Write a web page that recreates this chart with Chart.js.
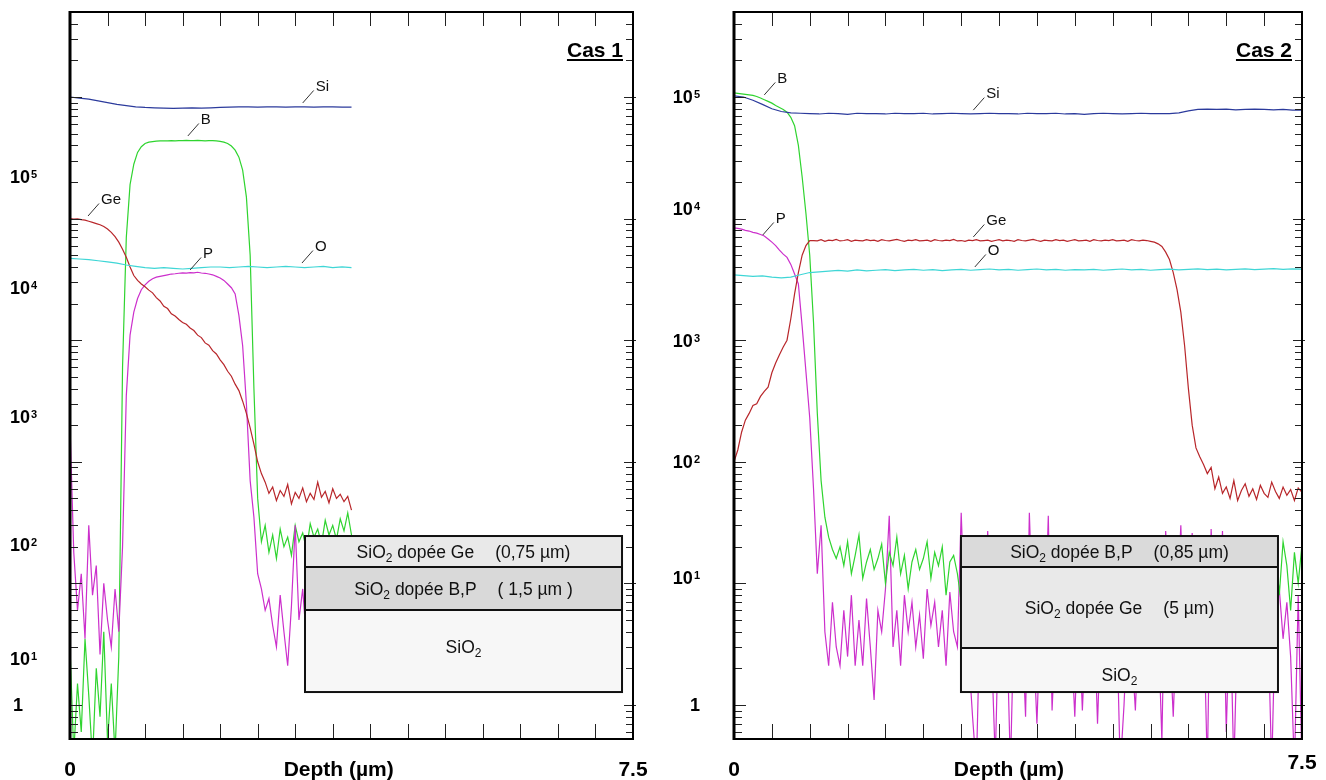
<!DOCTYPE html>
<html>
<head>
<meta charset="utf-8">
<script src="https://cdn.jsdelivr.net/npm/chart.js@4.4.1/dist/chart.umd.min.js"></script>
<style>
  html, body { margin: 0; padding: 0; background: #ffffff; width: 1326px; height: 780px; overflow: hidden; }
  #cas1 { position: absolute; left: 0; top: 0; }
  #cas2 { position: absolute; left: 660px; top: 0; }
</style>
</head>
<body>
<canvas id="cas1" width="660" height="780"></canvas>
<canvas id="cas2" width="666" height="780"></canvas>
<script>
// ---------------- DATA ----------------
// depth spacing of the profile samples (µm)
const depthStepDopant = 0.05;   // B, P, Ge
const depthStepMatrix = 0.125;  // Si, O

// ---- Cas 1 (profile measured from 0 to 3.75 µm) ----
const cas1_Si = [100000, 98000, 96000, 93000, 90000, 87000, 85000, 83000, 82000, 81500,
  81000, 80500, 81000, 81500, 81000, 81500, 82000, 82500, 83000, 83000,
  82500, 83000, 83000, 82500, 83000, 83000, 82500, 83000, 83000, 82500, 82500];
const cas1_O = [4700, 4650, 4600, 4500, 4400, 4300, 4150, 4050, 3950, 3900,
  3950, 3900, 3850, 3900, 3950, 4000, 4000, 3950, 4000, 4050,
  4000, 3950, 4000, 4050, 4000, 3950, 4000, 4050, 3950, 4000, 3950];
const cas1_Ge = [10000, 9900, 9950, 9800, 9700, 9500, 9300, 9100, 8900, 8600,
  8200, 7700, 7100, 6400, 5600, 4800, 4000, 3400, 3100, 2900,
  2750, 2580, 2450, 2240, 2100, 1900, 1820, 1650, 1580, 1480,
  1400, 1350, 1260, 1200, 1100, 1050, 950, 910, 820, 770,
  690, 630, 555, 505, 435, 385, 315, 250, 190, 140,
  100, 80, 68, 55, 62, 48, 58, 52, 65, 45,
  56, 50, 61, 47, 55, 49, 68, 51, 57, 46,
  60, 50, 54, 47, 52, 40];
const cas1_B = [3, 0.4, 1.5, 0.6, 3.5, 1.2, 0.35, 2, 0.8, 4,
  0.5, 1.5, 0.4, 2.5, 600, 7000, 19000, 28000, 35000, 39000,
  41500, 42500, 43000, 43300, 43500, 43600, 43500, 43700, 43600, 43800,
  43700, 43900, 43800, 43700, 43900, 43800, 43600, 43800, 43700, 43500,
  43200, 42500, 41500, 39500, 36500, 32000, 25000, 15000, 5000, 400,
  50, 22, 30, 18, 25, 16, 28, 20, 24, 17,
  30, 22, 26, 19, 31, 24, 28, 21, 33, 25,
  30, 23, 34, 27, 38, 25];
const cas1_P = [200, 18, 6, 12, 3.5, 30, 8, 14, 2.6, 10,
  5, 3, 9, 4, 20, 350, 1100, 1700, 2200, 2600,
  2850, 3050, 3200, 3300, 3350, 3400, 3450, 3500, 3520, 3550,
  3580, 3560, 3600, 3580, 3620, 3570, 3550, 3500, 3450, 3350,
  3250, 3100, 2900, 2700, 2400, 1600, 900, 300, 70, 35,
  12, 9, 6, 7.5, 4.5, 3, 8, 4, 2.1, 6.5,
  30, 5, 9, 3.4, 7.5, 5.5, 8, 4.2, 7, 12,
  5, 16, 6, 9, 11, 8];

// ---- Cas 2 (profile measured from 0 to 7.5 µm) ----
const cas2_Si = [102000, 100000, 94000, 87000, 80000, 76000, 74000, 73500,
  73000, 72500, 73500, 73000, 72000, 73500, 73000, 73000, 72500, 73500,
  73000, 73000, 73500, 72500, 73000, 73500, 73000, 72500, 73000, 73500,
  73000, 73000, 72500, 73500, 73000, 73000, 73500, 72500, 73000, 72000,
  73000, 73500, 73000, 72500, 73000, 73500, 73000, 73000, 73000,
  74000, 77000, 79000, 79500, 79000, 79500, 78500, 79000, 79500, 79000, 78500, 79000, 78000, 78000];
const cas2_O = [3450, 3400, 3350, 3380, 3300, 3250, 3300, 3450,
  3600, 3650, 3700, 3750, 3700, 3780, 3720, 3760, 3800, 3740,
  3780, 3820, 3760, 3800, 3740, 3780, 3820, 3760, 3800, 3850,
  3780, 3820, 3760, 3800, 3850, 3780, 3820, 3760, 3800, 3780,
  3820, 3760, 3800, 3850, 3780, 3820, 3760, 3800, 3840,
  3780, 3820, 3860, 3800, 3840, 3780, 3820, 3860, 3800, 3840, 3880, 3820, 3860, 3840];
const cas2_Ge = [100, 125, 175, 220, 250, 290, 300, 345, 380, 410,
  540, 650, 760, 880, 1000, 1500, 2400, 3600, 5000, 6000, 6600,
  6600, 6550, 6700, 6500, 6650, 6600, 6750, 6550, 6600, 6700,
  6500, 6650, 6600, 6550, 6700, 6600, 6650, 6500, 6700, 6600,
  6550, 6650, 6750, 6600, 6500, 6650, 6600, 6700, 6550, 6600,
  6650, 6500, 6700, 6600, 6550, 6650, 6600, 6750, 6550, 6600,
  6500, 6650, 6600, 6700, 6550, 6600, 6650, 6500, 6600, 6700,
  6550, 6650, 6600, 6500, 6700, 6600, 6550, 6650, 6750, 6600,
  6500, 6650, 6600, 6550, 6700, 6600, 6650, 6500, 6600, 6700,
  6550, 6600, 6650, 6500, 6700, 6600, 6550, 6650, 6600, 6700,
  6550, 6600, 6650, 6500, 6700, 6600, 6550, 6650, 6600, 6500,
  6400, 6200, 5900, 5300, 4600, 3600, 2600, 1700, 900, 400,
  200, 130, 110, 95, 80, 90, 60, 75, 55,
  62, 50, 70, 48, 58, 66, 52, 60, 49, 64, 55, 51, 68, 57, 50, 62, 53, 59, 48, 61, 56];
const cas2_B = [108000, 107000, 106000, 105000, 104000, 103000, 101000, 98000, 95000, 92000,
  89000, 85000, 82000, 79000, 75000, 68000, 58000, 40000, 22000, 11000,
  5000, 1400, 250, 70, 35, 24, 19, 16,
  20, 14, 22, 12, 17, 25, 11, 15, 19, 13,
  16, 21, 10, 18, 14, 24, 12, 17, 9, 15,
  19, 13, 16, 22, 11, 18, 14, 20, 8, 15,
  17, 12, 7, 14, 19, 11, 16, 13, 18, 10,
  15, 12, 17, 9, 14, 16, 11, 13, 18, 12,
  14, 10, 16, 12, 15, 9, 13, 17, 11, 14,
  12, 16, 10, 15, 13, 11, 17, 12, 14, 10,
  15, 13, 11, 16, 12, 14, 9, 15, 13, 11,
  16, 12, 14, 10, 15, 13, 17, 11, 14, 12,
  15, 11, 13, 16, 10, 14, 12, 15, 9, 13,
  16, 12, 14, 11, 15, 13, 10, 16, 12, 14,
  11, 15, 13, 17, 12, 20, 8, 22, 14, 6,
  18, 10, 21];
const cas2_P = [8400, 8300, 8200, 8000, 7900, 7700, 7600, 7400, 7200, 6800,
  6400, 6000, 5500, 5100, 4800, 4200, 3500, 2900, 1300, 550,
  230, 60, 12,
  30, 4, 2.1, 7, 3, 2.1, 6, 2.5, 8, 2.1,
  5, 2.1, 7.5, 3, 1.1, 6, 4, 9, 36, 3,
  6, 2.1, 8, 4, 7, 3, 5.5, 2.4, 9, 4.5,
  7, 3, 6, 2.1, 8.5, 4, 3, 38, 5, 2.5,
  0.8, 0.3, 6, 4, 27, 3, 0.35, 7, 2, 5,
  0.3, 6, 3, 5, 0.8, 38, 4, 0.7, 6, 3,
  36, 0.9, 5, 7, 3, 8, 4, 0.8, 6, 0.9,
  5, 3, 7, 0.7, 6, 4, 8, 2.5, 6, 0.3,
  1.0, 5, 3, 0.9, 6, 7, 4, 2.5, 8, 5,
  0.5, 27, 4, 0.8, 6, 30, 3, 7, 26, 5,
  4, 6, 0.3, 28, 5, 3, 27, 0.6, 7, 0.3,
  5, 8, 3, 6, 4, 9, 2.5, 7, 5, 0.3,
  6, 9, 3.5, 7, 2.5, 0.3, 8, 0.3];

// axis text
const yTickLabels = ['1', '10¹', '10²', '10³', '10⁴', '10⁵'];
const xTickLabels = ['0', '7.5'];
const xTickValues = [0, 7.5];
const xAxisTitle = 'Depth (µm)';
const panelTitles = ['Cas 1', 'Cas 2'];

// layer stack insets
const cas1Layers = [['SiO₂ dopée Ge', '(0,75 µm)'], ['SiO₂ dopée B,P', '( 1,5 µm )'], ['SiO₂', '']];
const cas2Layers = [['SiO₂ dopée B,P', '(0,85 µm)'], ['SiO₂ dopée Ge', '(5 µm)'], ['SiO₂', '']];

// ---------------- STYLE ----------------
const COLORS = { Si: '#2b3a9c', O: '#3fd6d6', Ge: '#b8262a', B: '#2fd42f', P: '#cc2fcc' };
const FONT = '"Liberation Sans", Arial, Helvetica, sans-serif';
const Y_MIN = 0.525, Y_MAX = 500000;
const X_MAX = 7.5;

const panels = [
  {
    id: 'cas1', title: panelTitles[0],
    series: [
      { name: 'O', values: cas1_O, step: depthStepMatrix },
      { name: 'Si', values: cas1_Si, step: depthStepMatrix },
      { name: 'Ge', values: cas1_Ge, step: depthStepDopant },
      { name: 'P', values: cas1_P, step: depthStepDopant },
      { name: 'B', values: cas1_B, step: depthStepDopant }
    ],
    padding: { left: 70, top: 12, right: 27, bottom: 41 },
    // y label placement (value at which each label is centred) – as in the original figure
    yLabelAt: [1, 2.43, 20.7, 234, 2690, 21980],
    yLabelAlign: 'left', yLabelDx: -60,
    depthTitleAt: 3.58, endLabelDy: [0, 0],
    curveLabels: [
      { t: 'Si', x: 3.10, y: 89300 }, { t: 'B', x: 1.57, y: 47800 },
      { t: 'Ge', x: 0.24, y: 10500 }, { t: 'P', x: 1.60, y: 3780 },
      { t: 'O', x: 3.09, y: 4310 }
    ],
    layers: cas1Layers,
    box: { x0: 0.4174, x1: 0.9805, rows: [0.7208, 0.7634, 0.8226, 0.9354],
           fills: ['#e9e9e9', '#d9d9d9', '#f7f7f7'], dy: [0, 0, -4] }
  },
  {
    id: 'cas2', title: panelTitles[1],
    series: [
      { name: 'O', values: cas2_O, step: depthStepMatrix },
      { name: 'Si', values: cas2_Si, step: depthStepMatrix },
      { name: 'Ge', values: cas2_Ge, step: depthStepDopant },
      { name: 'B', values: cas2_B, step: depthStepDopant },
      { name: 'P', values: cas2_P, step: depthStepDopant }
    ],
    padding: { left: 74, top: 12, right: 24, bottom: 41 },
    yLabelAt: [1, 11.1, 100, 1000, 12200, 100000],
    yLabelAlign: 'right', yLabelDx: -34,
    depthTitleAt: 3.63, endLabelDy: [0, -7],
    curveLabels: [
      { t: 'B', x: 0.40, y: 104000 }, { t: 'Si', x: 3.16, y: 78000 },
      { t: 'P', x: 0.38, y: 7330 }, { t: 'Ge', x: 3.16, y: 7060 },
      { t: 'O', x: 3.18, y: 4000 }
    ],
    layers: cas2Layers,
    box: { x0: 0.3996, x1: 0.9577, rows: [0.7208, 0.7634, 0.8748, 0.9354],
           fills: ['#dadada', '#e9e9e9', '#f7f7f7'], dy: [0, 0, 5] }
  }
];

// ---------------- DRAW HELPERS ----------------
const SUP = { '⁰': '0', '¹': '1', '²': '2', '³': '3', '⁴': '4', '⁵': '5', '⁶': '6', '⁷': '7', '⁸': '8', '⁹': '9' };
function drawPowerLabel(ctx, label, x, yc, align) {
  let base = '', sup = '';
  for (const ch of label) { if (SUP[ch]) sup += SUP[ch]; else base += ch; }
  ctx.font = 'bold 18px ' + FONT;
  const wb = ctx.measureText(base).width;
  ctx.font = 'bold 11px ' + FONT;
  const ws = sup ? ctx.measureText(sup).width + 1 : 0;
  const total = wb + ws;
  const x0 = align === 'right' ? x - total : x;
  ctx.fillStyle = '#000';
  ctx.textAlign = 'left';
  ctx.textBaseline = 'alphabetic';
  ctx.font = 'bold 18px ' + FONT;
  ctx.fillText(base, x0, yc + 6.5);
  if (sup) {
    ctx.font = 'bold 11px ' + FONT;
    ctx.fillText(sup, x0 + wb + 1, yc + 1.5);
  }
}
// text where '₂' is drawn as a real lowered subscript 2
function richWidth(ctx, text, size) {
  let w = 0;
  for (const part of text.split(/(₂)/)) {
    if (!part) continue;
    if (part === '₂') { ctx.font = Math.round(size * 0.68) + 'px ' + FONT; w += ctx.measureText('2').width; }
    else { ctx.font = size + 'px ' + FONT; w += ctx.measureText(part).width; }
  }
  return w;
}
function richDraw(ctx, text, x, baseline, size) {
  ctx.textAlign = 'left'; ctx.textBaseline = 'alphabetic';
  for (const part of text.split(/(₂)/)) {
    if (!part) continue;
    if (part === '₂') {
      ctx.font = Math.round(size * 0.68) + 'px ' + FONT;
      ctx.fillText('2', x, baseline + size * 0.22);
      x += ctx.measureText('2').width;
    } else {
      ctx.font = size + 'px ' + FONT;
      ctx.fillText(part, x, baseline);
      x += ctx.measureText(part).width;
    }
  }
}

const decorPlugin = {
  id: 'decor',
  afterDatasetsDraw(chart, args, opts) {
    const p = opts.panel;
    const ctx = chart.ctx;
    const a = chart.chartArea;
    const xs = chart.scales.x, ys = chart.scales.y;
    const W = a.right - a.left, H = a.bottom - a.top;
    ctx.save();

    // curve labels with leader lines
    ctx.lineWidth = 1;
    for (const c of p.curveLabels) {
      const px = xs.getPixelForValue(c.x), py = ys.getPixelForValue(c.y);
      ctx.strokeStyle = '#333';
      ctx.beginPath(); ctx.moveTo(px, py); ctx.lineTo(px + 11, py - 12.5); ctx.stroke();
      ctx.fillStyle = '#111';
      ctx.font = '15px ' + FONT;
      ctx.textAlign = 'left'; ctx.textBaseline = 'middle';
      ctx.fillText(c.t, px + 13, py - 16.5);
    }

    // layer stack inset
    const b = p.box;
    const bx0 = a.left + b.x0 * W, bx1 = a.left + b.x1 * W;
    const rowsY = b.rows.map(f => a.top + f * H);
    for (let i = 0; i < 3; i++) {
      ctx.fillStyle = b.fills[i];
      ctx.fillRect(bx0, rowsY[i], bx1 - bx0, rowsY[i + 1] - rowsY[i]);
    }
    ctx.strokeStyle = '#111'; ctx.lineWidth = 2;
    ctx.strokeRect(bx0, rowsY[0], bx1 - bx0, rowsY[3] - rowsY[0]);
    for (let i = 1; i < 3; i++) {
      ctx.beginPath(); ctx.moveTo(bx0, rowsY[i]); ctx.lineTo(bx1, rowsY[i]); ctx.stroke();
    }
    ctx.fillStyle = '#111';
    const size = 17.5, gap = 21;
    for (let i = 0; i < 3; i++) {
      const [main, thick] = p.layers[i];
      const w1 = richWidth(ctx, main, size);
      let w2 = 0;
      if (thick) { ctx.font = size + 'px ' + FONT; w2 = ctx.measureText(thick).width + gap; }
      const cx = (bx0 + bx1) / 2;
      const cy = (rowsY[i] + rowsY[i + 1]) / 2 + b.dy[i];
      const baseline = cy + size * 0.36;
      let x = cx - (w1 + w2) / 2;
      richDraw(ctx, main, x, baseline, size);
      if (thick) { ctx.font = size + 'px ' + FONT; ctx.textAlign = 'left'; ctx.fillText(thick, x + w1 + gap, baseline); }
    }

    // tick marks (inward) from the library scales
    ctx.strokeStyle = '#222'; ctx.lineWidth = 1;
    for (let e = -1; e <= 6; e++) {
      for (let m = 1; m <= 9; m++) {
        const v = m * Math.pow(10, e);
        if (v < Y_MIN || v > Y_MAX) continue;
        const py = Math.round(ys.getPixelForValue(v)) + 0.5;
        const major = m === 1;
        ctx.beginPath();
        ctx.moveTo(a.left, py); ctx.lineTo(a.left + (major ? 12 : 8), py);
        ctx.moveTo(a.right + (major ? 3 : 1), py); ctx.lineTo(a.right - (major ? 9 : 7), py);
        ctx.stroke();
      }
    }
    for (let i = 1; i < 15; i++) {
      const px = Math.round(xs.getPixelForValue(i * 0.5)) + 0.5;
      ctx.beginPath();
      ctx.moveTo(px, a.top); ctx.lineTo(px, a.top + 14);
      ctx.moveTo(px, a.bottom); ctx.lineTo(px, a.bottom - 15);
      ctx.stroke();
    }

    // frame
    ctx.strokeStyle = '#000'; ctx.lineWidth = 2;
    ctx.strokeRect(a.left, a.top, W, H);
    ctx.lineWidth = 3;
    ctx.beginPath(); ctx.moveTo(a.left, a.top - 1); ctx.lineTo(a.left, a.bottom + 1); ctx.stroke();

    // y labels
    p.yLabelAt.forEach((v, i) => {
      const py = ys.getPixelForValue(v);
      const lab = yTickLabels[i];
      let x = a.left + p.yLabelDx;
      if (p.yLabelAlign === 'left' && lab === '1') x += 3;
      drawPowerLabel(ctx, lab, x, py, p.yLabelAlign);
    });

    // x labels
    ctx.fillStyle = '#000';
    ctx.font = 'bold 21px ' + FONT;
    ctx.textAlign = 'center'; ctx.textBaseline = 'middle';
    xTickValues.forEach((v, i) => {
      ctx.fillText(xTickLabels[i], xs.getPixelForValue(v), a.bottom + 31 + p.endLabelDy[i]);
    });
    ctx.fillText(xAxisTitle, xs.getPixelForValue(p.depthTitleAt), a.bottom + 31);

    // panel title
    ctx.font = 'bold 21px ' + FONT;
    ctx.textAlign = 'right'; ctx.textBaseline = 'alphabetic';
    const tx = a.right - 10, ty = a.top + 45;
    ctx.fillText(p.title, tx, ty);
    const tw = ctx.measureText(p.title).width;
    ctx.fillRect(tx - tw, ty + 2, tw, 2);

    ctx.restore();
  }
};

function makeChart(p) {
  const datasets = p.series.map(s => ({
    label: s.name,
    data: s.values.map((v, i) => ({ x: Math.round(i * s.step * 1000) / 1000, y: v })),
    borderColor: COLORS[s.name],
    backgroundColor: COLORS[s.name],
    borderWidth: 1.2,
    pointRadius: 0,
    tension: 0,
    fill: false
  }));
  return new Chart(document.getElementById(p.id), {
    type: 'line',
    data: { datasets },
    options: {
      responsive: false,
      animation: false,
      devicePixelRatio: 1,
      layout: { padding: p.padding },
      plugins: { legend: { display: false }, tooltip: { enabled: false }, decor: { panel: p } },
      scales: {
        x: { type: 'linear', min: 0, max: X_MAX, display: false },
        y: { type: 'logarithmic', min: Y_MIN, max: Y_MAX, display: false }
      }
    },
    plugins: [decorPlugin]
  });
}
panels.forEach(makeChart);
</script>
</body>
</html>
